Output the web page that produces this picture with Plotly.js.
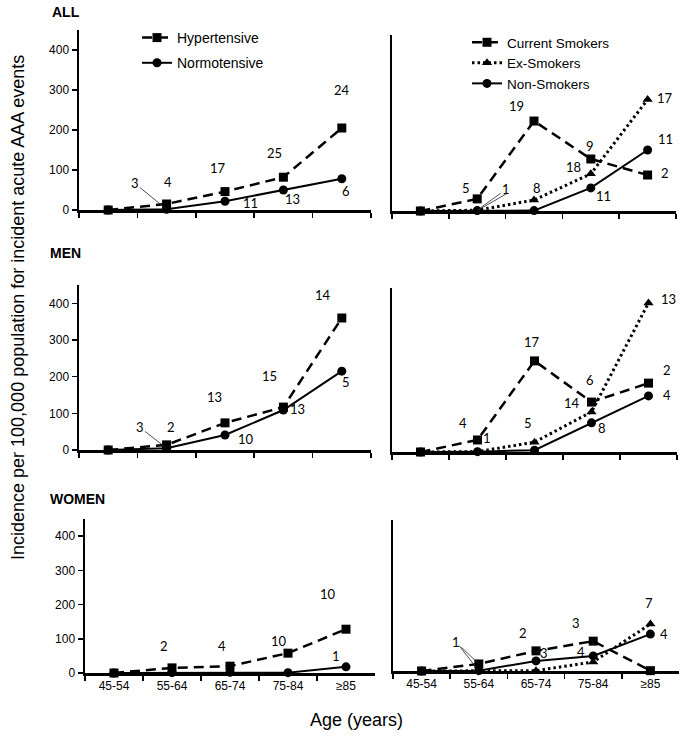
<!DOCTYPE html>
<html><head><meta charset="utf-8">
<script src="https://cdn.plot.ly/plotly-3.0.1.min.js"></script>
<style>html,body{margin:0;padding:0;background:#fff}#chart{width:683px;height:739px}</style>
</head><body><div id="chart"></div>
<script>
// ---------- DATA ----------
const ageGroups = ['45-54', '55-64', '65-74', '75-84', '≥85'];
const yTicks = [0, 100, 200, 300, 400];
const rowTitles = ['ALL', 'MEN', 'WOMEN'];

// incidence per 100,000 population
const allHyp   = [0, 15, 46, 82, 205];
const allNorm  = [0, 2, 22, 50, 78];
const allCur   = [0, 31, 230, 133, 92];
const allEx    = [0, 2, 28, 95, 285];
const allNon   = [0, 1, 1, 59, 156];
const menHyp   = [0, 14, 74, 117, 360];
const menNorm  = [0, 5, 41, 109, 215];
const menCur   = [0, 33, 250, 137, 189];
const menEx    = [0, 1, 27, 110, 409];
const menNon   = [0, 1, 5, 80, 154];
const womenHyp  = [0, 15, 20, 58, 128];
const womenNorm = [0, 1, 2, 1, 18];
const womenCur  = [0, 21, 60, 89, 1];
const womenEx   = [0, 1, 1, 27, 140];
const womenNon  = [0, 1, 30, 45, 110];

// number of events (labels)
const allHypN   = [null, 4, 17, 25, 24];
const allNormN  = [null, 3, 11, 13, 6];
const allCurN   = [null, 5, 19, 9, 2];
const allExN    = [null, 1, 8, 18, 17];
const allNonN   = [null, 1, null, 11, 11];
const menHypN   = [null, 2, 13, 15, 14];
const menNormN  = [null, 3, 10, 13, 5];
const menCurN   = [null, 4, 17, 6, 2];
const menExN    = [null, 1, 5, 14, 13];
const menNonN   = [null, null, null, 8, 4];
const womenHypN  = [null, 2, 4, 10, 10];
const womenNormN = [null, null, null, null, 1];
const womenCurN  = [null, 1, 2, 3, null];
const womenExN   = [null, null, null, 4, 7];
const womenNonN  = [null, 1, 3, null, 4];

// ---------- LABEL PLACEMENT (px offsets; 3rd item: 1 = leader line, 2 = leader line only) ----------
const allHypOff   = [null, [1, -22], [-7, -24], [-9, -24], [0, -38]];
const allNormOff  = [null, [-32, -26, 1], [25, 2], [9, 9], [4, 12]];
const allCurOff   = [null, [-11, -11], [-18, -15], [-1, -13], [17, -2]];
const allExOff    = [null, [29, -21, 1], [3, -12], [-17, -7], [17, -2]];
const allNonOff   = [null, [33, -19, 2], null, [13, 8], [18, -11]];
const menHypOff   = [null, [4, -18], [-11, -26], [-14, -31], [-19, -23]];
const menNormOff  = [null, [-27, -21, 1], [21, 4], [14, -1], [4, 11]];
const menCurOff   = [null, [-15, -17], [-3, -19], [-2, -22], [18, -13]];
const menExOff    = [null, [9, -14], [-7, -19], [-20, -9], [20, -4]];
const menNonOff   = [null, null, null, [10, 5], [18, -1]];
const womenHypOff  = [null, [-8, -22], [-8, -20], [-9, -12], [-18, -35]];
const womenNormOff = [null, null, null, null, [-10, -11]];
const womenCurOff  = [null, [-23, -22, 1], [-13, -18], [-17, -18], null];
const womenExOff   = [null, null, null, [-12, -10], [-1, -21]];
const womenNonOff  = [null, [-23, -29, 2], [8, -8], null, [14, 0]];

// ---------- STYLES ----------
const W = 683, H = 739;
const S = {
  hyp:  {name: 'Hypertensive',    line: {color: '#000', width: 2.5, dash: '10px,6px'}, marker: {symbol: 'square', size: 9, color: '#000'}},
  norm: {name: 'Normotensive',    line: {color: '#000', width: 2},                    marker: {symbol: 'circle', size: 9, color: '#000'}},
  cur:  {name: 'Current Smokers', line: {color: '#000', width: 2.5, dash: '10px,6px'}, marker: {symbol: 'square', size: 9, color: '#000'}},
  ex:   {name: 'Ex-Smokers',      line: {color: '#000', width: 3, dash: '2.5px,3px'}, marker: {symbol: 'triangle-up', size: 9, color: '#000'}},
  non:  {name: 'Non-Smokers',     line: {color: '#000', width: 2},                    marker: {symbol: 'circle', size: 9, color: '#000'}}
};

// panel pixel boxes [left, right, top, bottom]
const boxes = [
  [79, 371, 30, 210], [392, 676, 35, 211],
  [79, 371, 285, 450], [392, 677, 288, 452],
  [85, 375, 519, 673], [393, 679, 520, 671]
];

const panels = [
  {series: [['hyp', allHyp, allHypN, allHypOff], ['norm', allNorm, allNormN, allNormOff]]},
  {series: [['cur', allCur, allCurN, allCurOff], ['ex', allEx, allExN, allExOff], ['non', allNon, allNonN, allNonOff]]},
  {series: [['hyp', menHyp, menHypN, menHypOff], ['norm', menNorm, menNormN, menNormOff]]},
  {series: [['cur', menCur, menCurN, menCurOff], ['ex', menEx, menExN, menExOff], ['non', menNon, menNonN, menNonOff]]},
  {series: [['hyp', womenHyp, womenHypN, womenHypOff], ['norm', womenNorm, womenNormN, womenNormOff]]},
  {series: [['cur', womenCur, womenCurN, womenCurOff], ['ex', womenEx, womenExN, womenExOff], ['non', womenNon, womenNonN, womenNonOff]]}
];

const traces = [];
const annotations = [];
const layout = {
  width: W, height: H,
  margin: {l: 0, r: 0, t: 0, b: 0},
  paper_bgcolor: '#fff', plot_bgcolor: '#fff',
  font: {family: 'Liberation Sans, Arial, sans-serif', color: '#000', size: 12},
  showlegend: true,
  legend: {x: 137 / W, y: 1 - 22 / H, xanchor: 'left', yanchor: 'top', bgcolor: 'rgba(0,0,0,0)',
           font: {size: 14, family: 'Liberation Sans, Arial, sans-serif'}, tracegroupgap: 4},
  legend2: {x: 467 / W, y: 1 - 27 / H, xanchor: 'left', yanchor: 'top', bgcolor: 'rgba(0,0,0,0)',
            font: {size: 13.5, family: 'Liberation Sans, Arial, sans-serif'}, tracegroupgap: 0},
  annotations: annotations
};

const labelFont = {family: 'Lato, sans-serif', size: 13, color: '#000'};

panels.forEach((p, i) => {
  const k = i === 0 ? '' : String(i + 1);
  const xa = 'x' + k, ya = 'y' + k;
  const b = boxes[i];
  const isLeft = i % 2 === 0;
  const isBottom = i >= 4;
  layout['xaxis' + k] = {
    domain: [b[0] / W, b[1] / W], anchor: ya,
    type: 'category', categoryarray: ageGroups, range: [-0.5, 4.5],
    showline: true, linewidth: 2.5, linecolor: '#000', mirror: false,
    ticks: 'outside', tickson: 'boundaries', ticklen: 5, tickwidth: 1.5, tickcolor: '#000',
    showgrid: false, zeroline: false, showticklabels: isBottom,
    tickfont: {size: 12, family: 'Liberation Sans, Arial, sans-serif'}
  };
  layout['yaxis' + k] = {
    domain: [1 - b[3] / H, 1 - b[2] / H], anchor: xa,
    range: [0, 450], tickvals: yTicks,
    showline: true, linewidth: 2.5, linecolor: '#000',
    ticks: isLeft ? 'outside' : '', ticklen: 5, tickwidth: 1.5, tickcolor: '#000',
    showgrid: false, zeroline: false, showticklabels: isLeft,
    tickfont: {size: 12, family: 'Liberation Sans, Arial, sans-serif'}
  };
  p.series.forEach(([key, vals, counts, offs], si) => {
    const st = S[key];
    traces.push({
      type: 'scatter', mode: 'lines+markers', x: ageGroups, y: vals,
      xaxis: xa, yaxis: ya, name: st.name,
      line: st.line, marker: st.marker, cliponaxis: false,
      showlegend: i < 2, legend: isLeft ? 'legend' : 'legend2',
      legendgroup: (isLeft ? 'L' : 'R') + si
    });
    counts.forEach((c, j) => {
      const o = offs[j];
      if (c === null || !o) return;
      if (o[2]) {
        annotations.push({
          xref: xa, yref: ya, x: ageGroups[j], y: vals[j],
          text: o[2] === 2 ? ' ' : String(c), font: labelFont,
          showarrow: true, arrowhead: 0, arrowwidth: 0.8, arrowcolor: '#222',
          ax: o[0], ay: o[1], standoff: 0
        });
      } else {
        annotations.push({
          xref: xa, yref: ya, x: ageGroups[j], y: vals[j],
          text: String(c), font: labelFont, showarrow: false,
          xshift: o[0], yshift: -o[1]
        });
      }
    });
  });
});

// row titles
const titlePos = [[50, 12], [48, 253], [48, 499]];
rowTitles.forEach((t, r) => {
  annotations.push({
    xref: 'paper', yref: 'paper', x: titlePos[r][0] / W, y: 1 - titlePos[r][1] / H,
    xanchor: 'left', yanchor: 'middle', showarrow: false,
    text: '<b>' + t + '</b>', font: {size: 14, family: 'Liberation Sans, Arial, sans-serif'}
  });
});
// shared axis titles
annotations.push({
  xref: 'paper', yref: 'paper', x: 18 / W, y: 1 - 308 / H, showarrow: false,
  textangle: -90, xanchor: 'center', yanchor: 'middle',
  text: 'Incidence per 100,000 population for incident acute AAA events',
  font: {size: 18, family: 'Liberation Sans, Arial, sans-serif'}
});
annotations.push({
  xref: 'paper', yref: 'paper', x: 356 / W, y: 1 - 720 / H, showarrow: false,
  xanchor: 'center', yanchor: 'middle', text: 'Age (years)',
  font: {size: 18, family: 'Liberation Sans, Arial, sans-serif'}
});

Plotly.newPlot('chart', traces, layout, {displayModeBar: false, staticPlot: true});
</script></body></html>
